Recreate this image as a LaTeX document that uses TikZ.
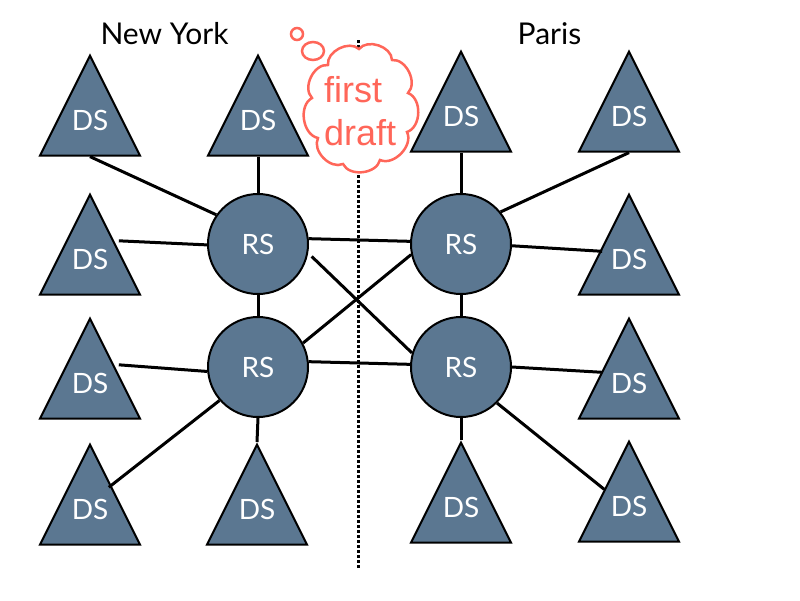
\documentclass[tikz,border=0pt]{standalone}
\usepackage{fontspec}
\setmainfont{Lato}
\newfontfamily\cloudfont{Liberation Sans}
\usetikzlibrary{shapes.geometric}
\definecolor{slate}{HTML}{5B7791}
\definecolor{salmon}{HTML}{FF6659}
\begin{document}
\begin{tikzpicture}[x=1pt,y=-1pt]
	\tikzset{dstext/.style = {text=white,yshift=4pt,font=\fontsize{28}{28}\selectfont}}
	\tikzset{ds/.style = {shape=isosceles triangle,draw,line width=2pt,fill=slate,shape border rotate=90,isosceles triangle stretches,minimum width=100pt,minimum height=100pt,inner sep=0pt,anchor=apex,yshift=1pt,label={[dstext]center:DS}}}
	\tikzset{rs/.style = {shape=circle,draw,line width=2pt,fill=slate,text=white,minimum size=100pt,inner sep=0pt,font=\fontsize{28}{28}\selectfont}}
	\tikzset{link/.style = {draw,line width=3pt}}
	\tikzset{city/.style = {font=\fontsize{30}{30}\selectfont}}
	\tikzset{puff/.style = {draw=salmon,line width=2.5pt}}
	\useasboundingbox (0,0) rectangle (800,600);
	\node[ds] (ds1) at (90,54) {};
	\node[ds] (ds2) at (258,54) {};
	\node[ds] (ds3) at (90,193) {};
	\node[ds] (ds4) at (90,317) {};
	\node[ds] (ds5) at (90,443) {};
	\node[ds] (ds6) at (257,443) {};
	\node[ds] (ds7) at (461,50) {};
	\node[ds] (ds8) at (629,50) {};
	\node[ds] (ds9) at (629,193) {};
	\node[ds] (ds10) at (629,317) {};
	\node[ds] (ds11) at (461,441) {};
	\node[ds] (ds12) at (629,440) {};
	\node[rs] (rs1) at (258,244) {RS};
	\node[rs] (rs2) at (258,367) {RS};
	\node[rs] (rs3) at (461,244) {RS};
	\node[rs] (rs4) at (461,367) {RS};
	\node[city] (ny) at (164.5,34) {New York};
	\node[city] (paris) at (549.5,34) {Paris};
	\coordinate (divtop) at (358,40);
	\coordinate (divbot) at (358,568);
	\path[draw,line width=3pt,dotted] (divtop) -- (divbot);
	\path[link] (ds1.lower side) edge (rs1.145);
	\path[link] (ds2.lower side) edge (rs1.north);
	\path[link] ([shift={(3,-3)}]ds3.right side) edge (rs1.181);
	\path[link] (rs1.south) edge (rs2.north);
	\path[link] ([shift={(3,-3)}]ds4.right side) edge (rs2.185);
	\path[link] ([shift={(-7,-6.5)}]ds5.right side) edge (rs2.221);
	\path[link] (ds6.apex) edge (rs2.south);
	\path[link] (rs1.6) edge (rs3.177);
	\path[link] ([shift={(4,1)}]rs1.-13) edge (rs4.164);
	\path[link] (rs2.28) edge (rs3.192);
	\path[link] (rs2.6) edge (rs4.177);
	\path[link] (rs3.north) edge (ds7.lower side);
	\path[link] (rs3.39) edge (ds8.lower side);
	\path[link] (rs3.-2) edge ([shift={(-1,7.5)}]ds9.left side);
	\path[link] (rs3.south) edge (rs4.north);
	\path[link] (rs4.0) edge ([shift={(-1,4.5)}]ds10.left side);
	\path[link] (rs4.south) edge (ds11.apex);
	\path[link] (rs4.-45) edge ([shift={(1,-1.5)}]ds12.left side);
	\path[puff,fill=white] (359,49)
		to[bend left=70] (392,60) to[bend left=70] (408,93)
		to[bend left=70] (407,132) to[bend left=70] (380,160)
		to[bend left=70] (343,164) to[bend left=70] (318,138)
		to[bend left=70] (312,98) to[bend left=70] (328,65)
		to[bend left=70] (359,49) -- cycle;
	\path[puff] (297,34) circle (6pt);
	\path[puff] (313,51) ellipse (11pt and 9pt);
	\node[text=salmon,font=\cloudfont\fontsize{36}{43}\selectfont,align=left,inner sep=0pt,anchor=west] (draft) at (324,111) {first\\draft};
\end{tikzpicture}
\end{document}
